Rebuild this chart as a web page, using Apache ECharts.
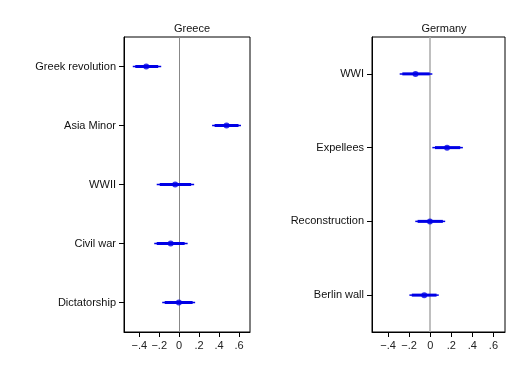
<!DOCTYPE html>
<html>
<head>
<meta charset="utf-8">
<script src="https://cdn.jsdelivr.net/npm/echarts@6/dist/echarts.min.js"></script>
<style>html,body{margin:0;padding:0;background:#fff}#c{width:528px;height:384px}</style>
</head>
<body>
<div id="c"></div>
<script>
// Greece panel
var greeceCats = ['Greek revolution', 'Asia Minor', 'WWII', 'Civil war', 'Dictatorship'];
var greeceEst  = [-0.33, 0.475, -0.04, -0.085, -0.003];
var greeceLo95 = [-0.465, 0.33, -0.225, -0.25, -0.17];
var greeceHi95 = [-0.18, 0.62, 0.15, 0.085, 0.16];
var greeceLo90 = [-0.44, 0.355, -0.195, -0.225, -0.145];
var greeceHi90 = [-0.21, 0.595, 0.12, 0.055, 0.135];
// Germany panel
var germanyCats = ['WWI', 'Expellees', 'Reconstruction', 'Berlin wall'];
var germanyEst  = [-0.14, 0.16, -0.003, -0.057];
var germanyLo95 = [-0.29, 0.02, -0.142, -0.198];
var germanyHi95 = [0.02, 0.31, 0.142, 0.081];
var germanyLo90 = [-0.265, 0.045, -0.12, -0.175];
var germanyHi90 = [-0.005, 0.285, 0.12, 0.06];
// ticks
var xTicks = [-0.4, -0.2, 0, 0.2, 0.4, 0.6];

var BLUE = '#0000e6';
var FONT = 'Liberation Sans, Arial, sans-serif';

function fmt(v) {
  if (Math.abs(v) < 1e-9) return '0';
  var s = Math.abs(v).toFixed(1).replace(/^0/, '');
  return (v < 0 ? '\u2212' : '') + s;
}

function ciData(lo, hi) {
  return lo.map(function (l, i) { return [l, hi[i], i]; });
}

function ciSeries(idx, lo, hi, width) {
  return {
    type: 'custom',
    xAxisIndex: idx, yAxisIndex: idx,
    encode: { x: [0, 1], y: 2 },
    data: ciData(lo, hi),
    silent: true,
    z: 3,
    renderItem: function (params, api) {
      var a = api.coord([api.value(0), api.value(2)]);
      var b = api.coord([api.value(1), api.value(2)]);
      return { type: 'line', shape: { x1: a[0], y1: a[1], x2: b[0], y2: b[1] },
               style: { stroke: BLUE, lineWidth: width } };
    }
  };
}

function estSeries(idx, est, zeroColor, zeroWidth) {
  return {
    type: 'scatter',
    xAxisIndex: idx, yAxisIndex: idx,
    data: est.map(function (v, i) { return [v, i]; }),
    symbol: 'circle', symbolSize: 6,
    itemStyle: { color: BLUE },
    z: 4,
    silent: true,
    markLine: {
      silent: true, symbol: 'none', label: { show: false },
      lineStyle: { color: zeroColor, width: zeroWidth, type: 'solid' },
      data: [{ xAxis: 0 }],
      z: 1
    }
  };
}

function xAxis(idx) {
  return {
    gridIndex: idx, type: 'value', min: -0.553, max: 0.71,
    axisLine: { show: true, onZero: false, lineStyle: { color: '#000', width: 1 } },
    axisTick: { show: true, length: 5, lineStyle: { color: '#000' }, customValues: xTicks },
    axisLabel: { show: true, color: '#222', fontSize: 11, fontFamily: FONT, margin: 8,
                 formatter: fmt, customValues: xTicks },
    splitLine: { show: false }
  };
}

function yAxis(idx, cats) {
  return {
    gridIndex: idx, type: 'category', data: cats, inverse: true,
    axisLine: { show: true, onZero: false, lineStyle: { color: '#000', width: 1 } },
    axisTick: { show: true, alignWithLabel: true, length: 5, lineStyle: { color: '#000' } },
    axisLabel: { show: true, color: '#111', fontSize: 11, fontFamily: FONT, margin: 8 },
    splitLine: { show: false }
  };
}

var chart = echarts.init(document.getElementById('c'), null, { renderer: 'canvas' });
chart.setOption({
  backgroundColor: '#fff',
  animation: false,
  title: [
    { text: 'Greece', left: 187, top: 18, textAlign: 'center',
      textStyle: { fontSize: 11, fontWeight: 'normal', color: '#111', fontFamily: FONT } },
    { text: 'Germany', left: 439, top: 18, textAlign: 'center',
      textStyle: { fontSize: 11, fontWeight: 'normal', color: '#111', fontFamily: FONT } }
  ],
  grid: [
    { left: 124, right: 278, top: 37, bottom: 52, show: true, borderColor: '#000', borderWidth: 1, backgroundColor: '#fff' },
    { left: 372, right: 23, top: 37, bottom: 52, show: true, borderColor: '#000', borderWidth: 1, backgroundColor: '#fff' }
  ],
  xAxis: [xAxis(0), xAxis(1)],
  yAxis: [yAxis(0, greeceCats), yAxis(1, germanyCats)],
  series: [
    estSeries(0, greeceEst, '#888', 1),
    ciSeries(0, greeceLo95, greeceHi95, 1.5),
    ciSeries(0, greeceLo90, greeceHi90, 3),
    estSeries(1, germanyEst, '#aaa', 1.5),
    ciSeries(1, germanyLo95, germanyHi95, 1.5),
    ciSeries(1, germanyLo90, germanyHi90, 3)
  ]
});
</script>
</body>
</html>
